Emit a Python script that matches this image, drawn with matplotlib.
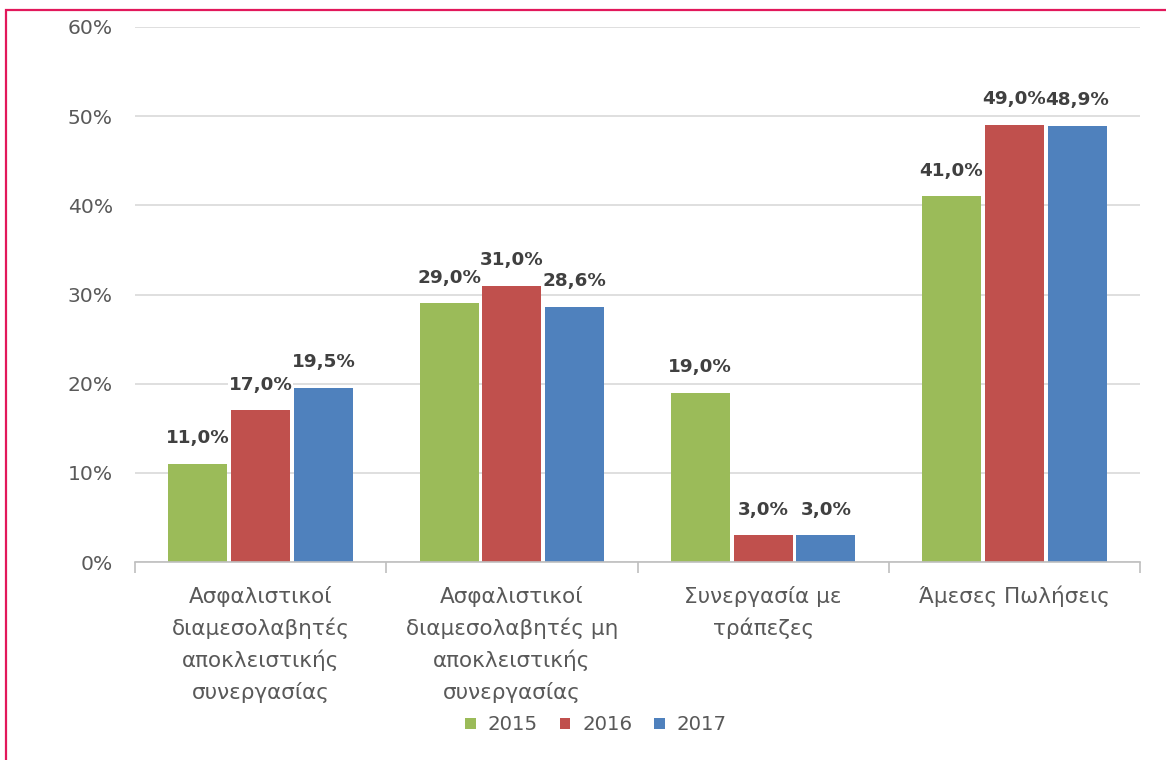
#!/usr/bin/env python3
import matplotlib
matplotlib.use("Agg")
import matplotlib.pyplot as plt
import numpy as np
from matplotlib.patches import Rectangle
from matplotlib.ticker import FuncFormatter

categories = [
    "Ασφαλιστικοί\nδιαμεσολαβητές\nαποκλειστικής\nσυνεργασίας",
    "Ασφαλιστικοί\nδιαμεσολαβητές μη\nαποκλειστικής\nσυνεργασίας",
    "Συνεργασία με\nτράπεζες",
    "Άμεσες Πωλήσεις",
]
years = ["2015", "2016", "2017"]
v2015 = [11.0, 29.0, 19.0, 41.0]
v2016 = [17.0, 31.0, 3.0, 49.0]
v2017 = [19.5, 28.6, 3.0, 48.9]
colors = ["#9BBB59", "#C0504D", "#4F81BD"]

plt.rcParams["font.family"] = ["DejaVu Sans"]

fig = plt.figure(figsize=(11.66, 7.6), dpi=100)
ax = fig.add_axes([135 / 1166, 1 - 562 / 760, (1140 - 135) / 1166, (562 - 27) / 760])

x = np.arange(len(categories))
step = 0.25
for j, (vals, year) in enumerate(zip([v2015, v2016, v2017], years)):
    xs = x + (j - 1) * step
    bars = ax.bar(xs, vals, width=0.235, color=colors[j], label=year, zorder=2)
    for b, v in zip(bars, vals):
        ax.annotate(f"{v:.1f}%".replace(".", ","),
                    (b.get_x() + b.get_width() / 2, v),
                    xytext=(0, 12), textcoords="offset points",
                    ha="center", va="bottom", fontsize=13.2,
                    fontweight="bold", color="#404040", zorder=1.5,
                    bbox=dict(boxstyle="square,pad=0.02", fc="white", ec="none"))

ax.set_xlim(-0.5, 3.5)
ax.set_ylim(0, 60)
ax.set_yticks(np.arange(0, 61, 10))
ax.yaxis.set_major_formatter(FuncFormatter(lambda v, p: f"{v:.0f}%"))
ax.grid(axis="y", color="#D9D9D9", linewidth=1.2, zorder=0)
ax.set_axisbelow(True)

ax.set_xticks(x)
ax.set_xticklabels(categories, fontsize=15.5, color="#595959", linespacing=1.62)
ax.set_xticks(np.arange(-0.5, 4, 1), minor=True)
ax.tick_params(axis="x", which="major", length=0, pad=17)
ax.tick_params(axis="x", which="minor", length=8, color="#BFBFBF", width=1.2)
ax.tick_params(axis="y", length=0, labelsize=14.6, labelcolor="#595959", pad=16)

for s in ["top", "right", "left"]:
    ax.spines[s].set_visible(False)
ax.spines["bottom"].set_color("#BFBFBF")
ax.spines["bottom"].set_linewidth(1.2)

ax.legend(loc="center", bbox_to_anchor=(596 / 1166, 1 - 725 / 760),
          bbox_transform=fig.transFigure,
          ncol=3, frameon=False, fontsize=14.2, handlelength=0.55, handleheight=0.55,
          handletextpad=0.6, columnspacing=1.1, labelcolor="#595959")

fig.patches.append(Rectangle((6 / 1166, -0.1), 1.2, 750 / 760 + 0.1,
                             transform=fig.transFigure, fill=False,
                             edgecolor="#E2185B", linewidth=1.6))

fig.savefig("out.png", dpi=100)
